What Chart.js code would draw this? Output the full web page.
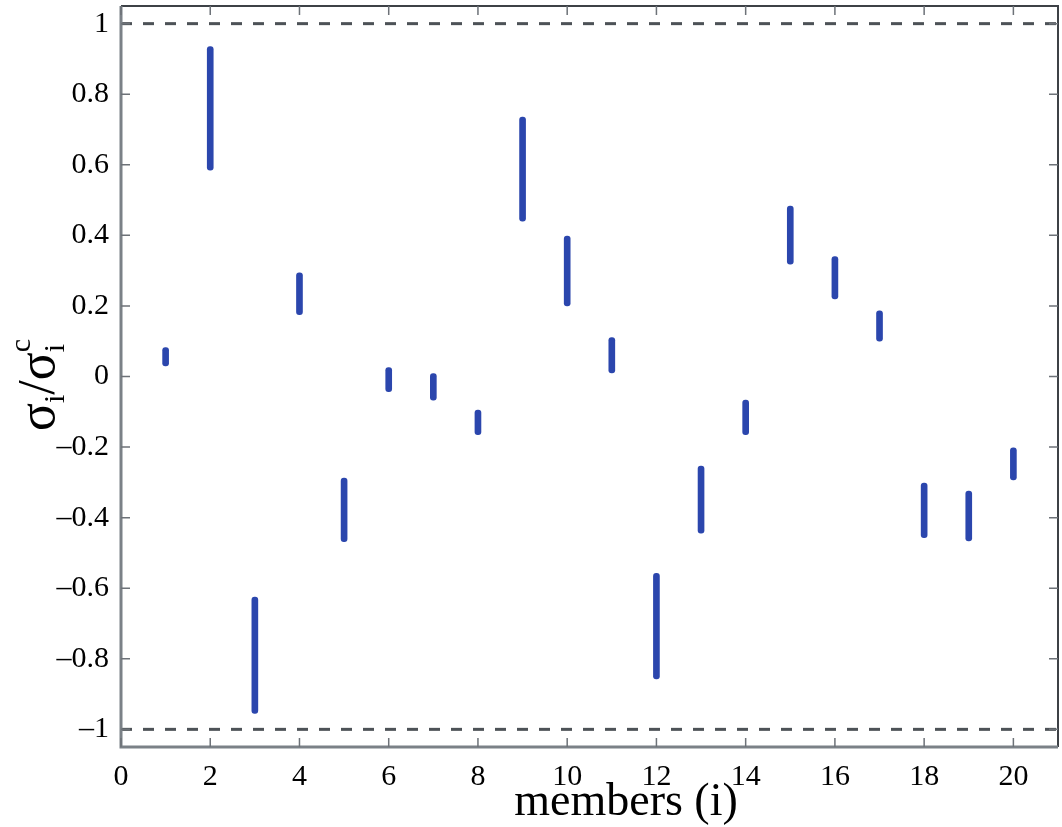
<!DOCTYPE html>
<html>
<head>
<meta charset="utf-8">
<script src="https://cdn.jsdelivr.net/npm/chart.js@4"></script>
<style>
  html, body { margin: 0; padding: 0; background: #fff; }
  #wrap { width: 1062px; height: 827px; }
</style>
</head>
<body>
<div id="wrap"><canvas id="chart"></canvas></div>
<script>
// members and the range of sigma_i / sigma_i^c for each one
var members = [1, 2, 3, 4, 5, 6, 7, 8, 9, 10, 11, 12, 13, 14, 15, 16, 17, 18, 19, 20];
var lowVals = [0.03, 0.585, -0.955, 0.175, -0.468, -0.043, -0.067, -0.165, 0.44, 0.2, 0.01, -0.857, -0.444, -0.165, 0.318, 0.22, 0.1, -0.457, -0.466, -0.293];
var highVals = [0.082, 0.935, -0.625, 0.294, -0.288, 0.025, 0.008, -0.095, 0.735, 0.398, 0.11, -0.558, -0.254, -0.067, 0.483, 0.34, 0.186, -0.302, -0.325, -0.202];
var refLevels = [1, -1];
var xTicks = [0, 2, 4, 6, 8, 10, 12, 14, 16, 18, 20];
var yTicks = [-1, -0.8, -0.6, -0.4, -0.2, 0, 0.2, 0.4, 0.6, 0.8, 1];
var xRange = [0, 21];
var yRange = [-1.05, 1.05];

var serif = '"Liberation Serif", "DejaVu Serif", serif';

var barData = members.map(function (m, i) {
    return { x: m, y: [lowVals[i], highVals[i]] };
});

var datasets = [{
    type: 'bar',
    label: 'range',
    data: barData,
    backgroundColor: '#2b46ad',
    borderWidth: 0,
    barThickness: 6,
    borderRadius: 3,
    borderSkipped: false
}];

refLevels.forEach(function (lvl) {
    datasets.push({
        type: 'line',
        label: 'ref ' + lvl,
        data: [{ x: xRange[0], y: lvl }, { x: xRange[1], y: lvl }],
        borderColor: '#4d5257',
        borderWidth: 3,
        borderDash: [11, 11],
        pointRadius: 0,
        fill: false
    });
});

function minusFmt(v) {
    var s = String(Math.round(v * 10) / 10);
    return s.replace('-', '\u2013');
}

// frame, inward tick marks and axis titles
var framePlugin = {
    id: 'frame',
    afterDraw: function (chart) {
        var ctx = chart.ctx;
        var a = chart.chartArea;
        var xs = chart.scales.x, ys = chart.scales.y;
        ctx.save();
        // top and right edges
        ctx.strokeStyle = '#3d4146';
        ctx.lineWidth = 2;
        ctx.beginPath();
        ctx.moveTo(a.left, a.top);
        ctx.lineTo(a.right, a.top);
        ctx.lineTo(a.right, a.bottom);
        ctx.stroke();
        // left and bottom edges
        ctx.strokeStyle = '#7b8187';
        ctx.lineWidth = 3;
        ctx.beginPath();
        ctx.moveTo(a.left, a.top);
        ctx.lineTo(a.left, a.bottom);
        ctx.lineTo(a.right, a.bottom);
        ctx.stroke();
        // ticks
        ctx.lineWidth = 1.5;
        ctx.strokeStyle = '#6d7278';
        xTicks.forEach(function (t) {
            var px = xs.getPixelForValue(t);
            ctx.beginPath();
            ctx.moveTo(px, a.bottom);
            ctx.lineTo(px, a.bottom - 9);
            ctx.moveTo(px, a.top);
            ctx.lineTo(px, a.top + 9);
            ctx.stroke();
        });
        yTicks.forEach(function (t) {
            var py = ys.getPixelForValue(t);
            ctx.beginPath();
            ctx.moveTo(a.left, py);
            ctx.lineTo(a.left + 9, py);
            ctx.moveTo(a.right, py);
            ctx.lineTo(a.right - 9, py);
            ctx.stroke();
        });
        // x title
        ctx.fillStyle = '#000';
        ctx.font = '46px ' + serif;
        ctx.textAlign = 'center';
        ctx.textBaseline = 'alphabetic';
        ctx.fillText('members (i)', 626, 815);
        // y title: sigma_i / sigma_i^c
        ctx.translate(54, 385);
        ctx.rotate(-Math.PI / 2);
        var big = '52px ' + serif, small = '30px ' + serif;
        ctx.font = big;
        var wS = ctx.measureText('\u03c3').width;
        var wSl = ctx.measureText('/').width;
        ctx.font = small;
        var wi = ctx.measureText('i').width;
        var wc = ctx.measureText('c').width;
        var total = wS + wi + wSl + wS + Math.max(wi, wc);
        var x = -total / 2;
        ctx.textAlign = 'left';
        ctx.font = big;
        ctx.fillText('\u03c3', x, 0); x += wS;
        ctx.font = small;
        ctx.fillText('i', x, 10); x += wi;
        ctx.font = big;
        ctx.fillText('/', x, 0); x += wSl;
        ctx.fillText('\u03c3', x, 0); x += wS;
        ctx.font = small;
        ctx.fillText('i', x, 10);
        ctx.fillText('c', x, -24);
        ctx.restore();
    }
};

new Chart(document.getElementById('chart'), {
    type: 'bar',
    data: { datasets: datasets },
    options: {
        responsive: true,
        maintainAspectRatio: false,
        animation: false,
        layout: { padding: { top: 6, right: 4, left: 0, bottom: 0 } },
        plugins: {
            legend: { display: false },
            tooltip: { enabled: false }
        },
        scales: {
            x: {
                type: 'linear',
                min: xRange[0],
                max: xRange[1],
                offset: false,
                grid: { display: false },
                border: { display: false },
                afterBuildTicks: function (s) {
                    s.ticks = xTicks.map(function (v) { return { value: v }; });
                },
                afterFit: function (s) {
                    s.height = 80;
                    s.paddingLeft = 0;
                    s.paddingRight = 0;
                },
                ticks: {
                    color: '#000',
                    padding: 4,
                    maxRotation: 0,
                    font: { family: serif, size: 30 },
                    callback: function (v) { return String(v); }
                }
            },
            y: {
                type: 'linear',
                min: yRange[0],
                max: yRange[1],
                grid: { display: false },
                border: { display: false },
                afterBuildTicks: function (s) {
                    s.ticks = yTicks.map(function (v) { return { value: v }; });
                },
                afterFit: function (s) {
                    s.width = 121;
                    s.paddingTop = 0;
                    s.paddingBottom = 0;
                },
                ticks: {
                    color: '#000',
                    padding: 4,
                    font: { family: serif, size: 30 },
                    callback: function (v) { return minusFmt(v); }
                }
            }
        }
    },
    plugins: [framePlugin]
});
</script>
</body>
</html>
